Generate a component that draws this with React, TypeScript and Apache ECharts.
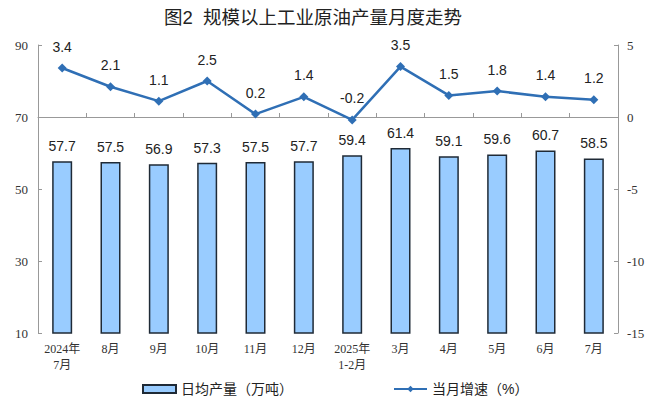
import React, { useEffect, useRef } from "react";
import * as echarts from "echarts";

const categories = ["2024年\n7月", "8月", "9月", "10月", "11月", "12月", "2025年\n1-2月", "3月", "4月", "5月", "6月", "7月"];
const dailyOutput = [57.7, 57.5, 56.9, 57.3, 57.5, 57.7, 59.4, 61.4, 59.1, 59.6, 60.7, 58.5];
const monthlyGrowth = [3.4, 2.1, 1.1, 2.5, 0.2, 1.4, -0.2, 3.5, 1.5, 1.8, 1.4, 1.2];

const serif = "'Liberation Serif', 'DejaVu Serif', 'Noto Sans CJK SC', serif";
const sans = "'Liberation Sans', Arial, 'Noto Sans CJK SC', sans-serif";

export default function App() {
  const ref = useRef<HTMLDivElement>(null);
  useEffect(() => {
    if (!ref.current) return;
    const chart = echarts.init(ref.current, undefined, { renderer: "svg" });
    chart.setOption({
      animation: false,
      backgroundColor: "#ffffff",
      title: {
        text: "图2  规模以上工业原油产量月度走势",
        left: 159,
        top: 3,
        textStyle: { fontSize: 18.5, fontWeight: "normal", color: "#222", fontFamily: sans },
      },
      legend: {
        left: 137,
        top: 377,
        itemGap: 100,
        itemWidth: 33,
        itemHeight: 8,
        textStyle: { fontSize: 14, color: "#222", fontFamily: sans },
        data: [
          { name: "日均产量（万吨）", icon: "rect" },
          { name: "当月增速（%）" },
        ],
      },
      grid: { left: 38, right: 33, top: 45, bottom: 65 },
      xAxis: {
        type: "category",
        data: categories,
        axisLine: { show: true, lineStyle: { color: "#999" } },
        axisTick: { show: true, inside: true, length: 4, lineStyle: { color: "#999" } },
        axisLabel: { fontFamily: serif, fontSize: 12, color: "#333", lineHeight: 16, margin: 8 },
      },
      yAxis: [
        {
          type: "value",
          min: 10,
          max: 90,
          interval: 20,
          splitLine: { show: false },
          axisLine: { show: true, lineStyle: { color: "#999" } },
          axisTick: { show: true, inside: true, length: 4, lineStyle: { color: "#999" } },
          axisLabel: { fontFamily: serif, fontSize: 13, color: "#333", margin: 10 },
        },
        {
          type: "value",
          min: -15,
          max: 5,
          interval: 5,
          splitLine: { show: false },
          axisLine: { show: true, lineStyle: { color: "#999" } },
          axisTick: { show: true, inside: true, length: 4, lineStyle: { color: "#999" } },
          axisLabel: { fontFamily: serif, fontSize: 13, color: "#333", margin: 9 },
        },
      ],
      series: [
        {
          name: "日均产量（万吨）",
          type: "bar",
          yAxisIndex: 0,
          data: dailyOutput,
          barWidth: 20,
          itemStyle: { color: "#99CCFF", borderColor: "#1f2a36", borderWidth: 1.5 },
          label: {
            show: true,
            position: "top",
            distance: 8,
            fontSize: 14,
            color: "#222",
            fontFamily: sans,
            formatter: (p: any) => p.value.toFixed(1),
          },
        },
        {
          name: "当月增速（%）",
          type: "line",
          yAxisIndex: 1,
          data: monthlyGrowth,
          symbol: "diamond",
          symbolSize: 9,
          lineStyle: { color: "#2F6FB5", width: 2.5 },
          itemStyle: { color: "#2F6FB5" },
          label: {
            show: true,
            position: "top",
            distance: 10,
            fontSize: 14,
            color: "#222",
            fontFamily: sans,
            formatter: (p: any) => p.value.toFixed(1),
          },
        },
      ],
    });
    return () => chart.dispose();
  }, []);
  return (
    <div
      ref={ref}
      style={{ position: "fixed", left: 0, top: 0, width: 651, height: 398, overflow: "hidden" }}
    />
  );
}
